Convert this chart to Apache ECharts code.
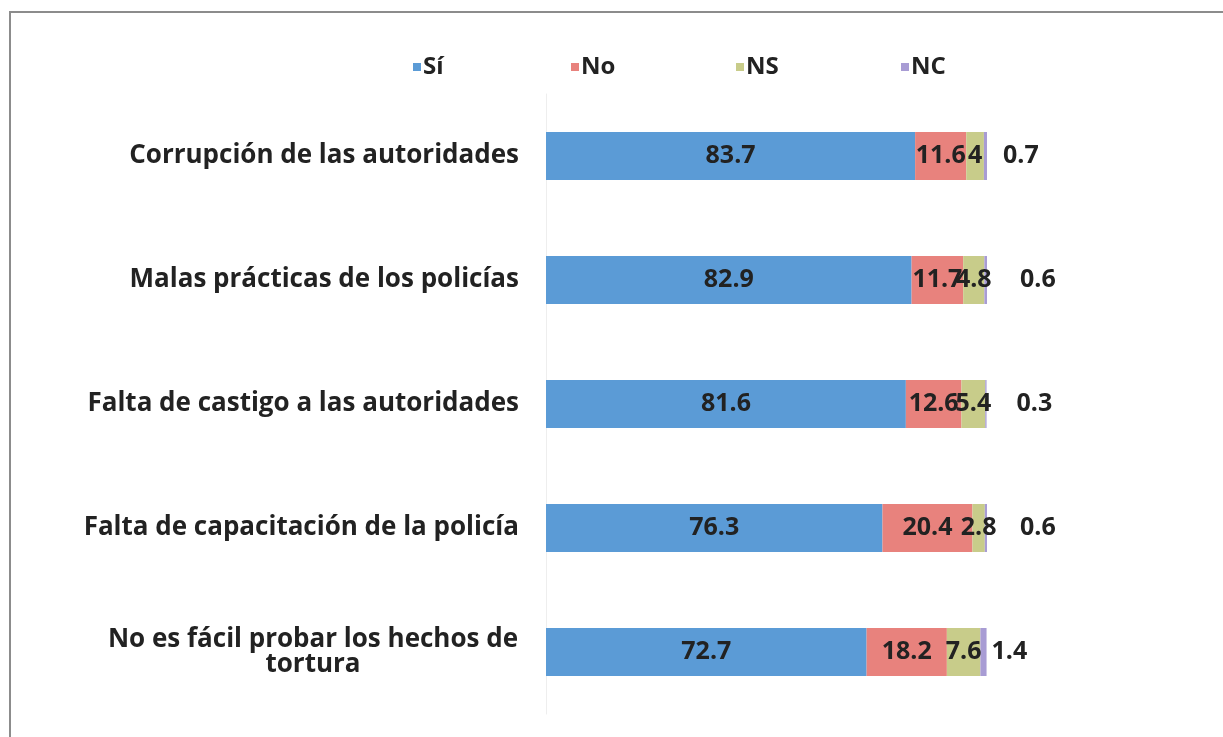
<!DOCTYPE html>
<html>
<head>
<meta charset="utf-8">
<script src="https://cdn.jsdelivr.net/npm/echarts@6/dist/echarts.min.js"></script>
<style>
  html, body { margin: 0; padding: 0; background: #fff; }
  #mainChart { width: 1223px; height: 737px; }
  #frame {
    position: absolute; left: 9px; top: 11px; width: 1230px; height: 740px;
    border-left: 2px solid #8c8c8c; border-top: 2px solid #8c8c8c;
    pointer-events: none;
  }
</style>
</head>
<body>
<div id="mainChart"></div>
<div id="frame"></div>
<script>
const categories = [
  'Corrupción de las autoridades',
  'Malas prácticas de los policías',
  'Falta de castigo a las autoridades',
  'Falta de capacitación de la policía',
  'No es fácil probar los hechos de\ntortura'
];
const seriesNames = ['Sí', 'No', 'NS', 'NC'];
const si = [83.7, 82.9, 81.6, 76.3, 72.7];
const no = [11.6, 11.7, 12.6, 20.4, 18.2];
const ns = [4, 4.8, 5.4, 2.8, 7.6];
const nc = [0.7, 0.6, 0.3, 0.6, 1.4];

const ncDistance = [16, 33, 30, 33, 5]; // where excel dropped the NC labels
const legendLeft = [408, 566, 731, 896];

var myChart = echarts.init(document.getElementById('mainChart'));

const FONT = 'Open Sans';
const catFont = { fontFamily: FONT, fontWeight: 'bold', fontSize: 26, color: '#222', lineHeight: 25 };
const labelStyle = {
  show: true,
  position: 'inside',
  color: '#222',
  fontFamily: FONT,
  fontWeight: 'bold',
  fontSize: 25
};

function seg(name, values, color) {
  return {
    name: name,
    type: 'bar',
    stack: 'total',
    barWidth: 48,
    data: values,
    itemStyle: { color: color },
    label: labelStyle
  };
}

// wrapped labels are centred line by line, like excel does
function catLabel(value) {
  if (value.indexOf('\n') < 0) return value;
  return value.split('\n').map(s => '{c|' + s + '}').join('\n');
}

myChart.setOption({
  animation: false,
  legend: seriesNames.map((n, i) => ({
    top: 50,
    left: legendLeft[i],
    itemWidth: 8,
    itemHeight: 8,
    itemGap: 4,
    icon: 'rect',
    textStyle: { fontFamily: FONT, fontWeight: 'bold', fontSize: 24, color: '#222', padding: [0, 0, 0, -3] },
    data: [n]
  })),
  grid: { left: 546, width: 441, top: 94, height: 620, containLabel: false },
  xAxis: {
    type: 'value', min: 0, max: 100, show: false
  },
  yAxis: {
    type: 'category',
    inverse: true,
    data: categories,
    axisLine: { show: true, lineStyle: { color: '#eeeeee' } },
    axisTick: { show: false },
    axisLabel: Object.assign({
      margin: 27,
      align: 'right',
      formatter: catLabel,
      rich: { c: Object.assign({ width: 412, align: 'center' }, catFont) }
    }, catFont)
  },
  series: [
    seg('Sí', si, '#5b9bd6'),
    seg('No', no, '#e8827d'),
    seg('NS', ns, '#c8cc8a'),
    {
      name: 'NC',
      type: 'bar',
      stack: 'total',
      barWidth: 48,
      itemStyle: { color: '#a89cd4' },
      data: nc.map((v, i) => ({
        value: v,
        label: { distance: ncDistance[i] }
      })),
      label: Object.assign({}, labelStyle, { position: 'right' })
    }
  ]
});
</script>
</body>
</html>
